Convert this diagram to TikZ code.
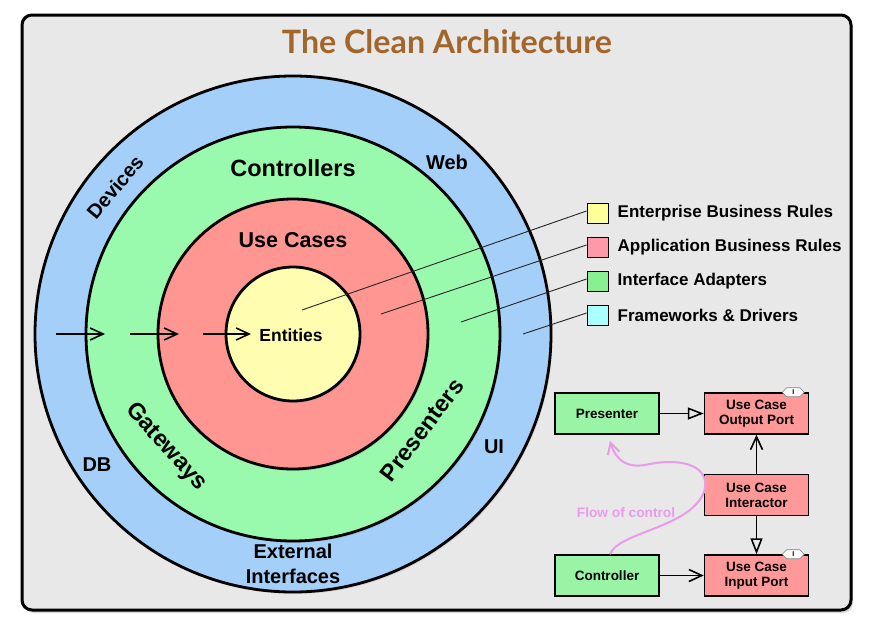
\documentclass[tikz,border=0pt]{standalone}
\usepackage{fontspec}
\setmainfont{Liberation Sans}
\newfontfamily\titlefont{Lato}
\usetikzlibrary{positioning,arrows.meta,shadows,shapes.symbols}

\definecolor{frameback}{HTML}{E8E8E8}
\definecolor{ringblue}{HTML}{A3CFF8}
\definecolor{ringgreen}{HTML}{99F9AC}
\definecolor{ringred}{HTML}{FF9691}
\definecolor{ringyellow}{HTML}{FFFDB0}
\definecolor{keyyellow}{HTML}{FFFF99}
\definecolor{keypink}{HTML}{FF99AA}
\definecolor{keygreen}{HTML}{88F090}
\definecolor{keycyan}{HTML}{AAFFFF}
\definecolor{boxgreen}{HTML}{99F5A5}
\definecolor{boxred}{HTML}{FF9999}
\definecolor{titlebrown}{HTML}{A2652A}
\definecolor{flowpink}{HTML}{E99BEA}

\begin{document}
\begin{tikzpicture}[x=1pt,y=-1pt,
  node distance=13pt and 9pt,
  ring/.style={draw,circle,line width=2.8pt,inner sep=0pt,
    drop shadow={shadow xshift=1.5pt,shadow yshift=-2pt,opacity=0.2}},
  keybox/.style={draw,rectangle,line width=1pt,minimum width=21pt,minimum height=20pt,inner sep=0pt},
  keytext/.style={inner sep=0pt,font=\bfseries\fontsize{17}{17}\selectfont},
  ringtext/.style={inner sep=0pt,font=\bfseries\fontsize{20}{25}\selectfont},
  bigtext/.style={inner sep=0pt,font=\bfseries\fontsize{23.5}{25}\selectfont},
  cbox/.style={draw,rectangle,line width=1.5pt,minimum width=104pt,minimum height=41pt,
    inner sep=1pt,align=center,font=\bfseries\fontsize{13.5}{15}\selectfont},
  itag/.style={draw=gray,fill=white,signal,signal to=west and east,line width=0.6pt,
    minimum width=22pt,minimum height=9pt,inner sep=0.5pt,font=\bfseries\fontsize{7}{7}\selectfont},
  barb/.style={line width=1.6pt,-{Straight Barb[length=13pt,width=12pt]}},
  hollow/.style={line width=1.6pt,-{Triangle[open,length=16pt,width=12pt,line width=1.6pt]}}
]
\useasboundingbox[fill=white] (0,0) rectangle (869,635);
\draw[line width=3pt,fill=frameback,rounded corners=10pt,
  drop shadow={shadow xshift=2pt,shadow yshift=-3pt,opacity=0.3}] (22,15) rectangle (851,610);

\node[text=titlebrown] (title) at (447,42) {\resizebox{330pt}{!}{\titlefont\bfseries The Clean Architecture}};

% the rings
\node[ring,fill=ringblue,minimum size=516pt] (outer) at (293,334) {};
\node[ring,fill=ringgreen,minimum size=414pt] (adapters) at (293,334) {};
\node[ring,fill=ringred,minimum size=270pt] (usecase) at (293,334) {};
\node[ring,fill=ringyellow,minimum size=134pt] (core) at (293,334) {};

\node[bigtext] (ctrls) at (293,168) {Controllers};
\node[inner sep=0pt,font=\bfseries\fontsize{21.5}{23}\selectfont] (cases) at (293,240) {Use Cases};
\node[inner sep=0pt,font=\bfseries\fontsize{17.5}{18}\selectfont] (ent) at (291,335) {Entities};
\node[ringtext] (web) at (447,162) {Web};
\node[ringtext] (ui) at (494,447) {UI};
\node[ringtext] (db) at (97,465) {DB};
\node[ringtext,align=center] (ext) at (293,564) {External\\Interfaces};
\node[ringtext,rotate=50] (dev) at (115,187) {Devices};
\node[bigtext,rotate=-48] (gate) at (166,447) {Gateways};
\node[bigtext,rotate=53] (pres) at (422,430) {Presenters};

% dependency arrows
\coordinate (a1) at (56,334);
\coordinate (b1) at (105,334);
\coordinate (a2) at (130,334);
\coordinate (b2) at (179,334);
\coordinate (a3) at (203,334);
\coordinate (b3) at (251,334);
\draw[barb] (a1) -- (b1);
\draw[barb] (a2) -- (b2);
\draw[barb] (a3) -- (b3);

% legend
\node[keybox,fill=keyyellow] (key1) at (597.5,213) {};
\node[keybox,fill=keypink,below=of key1] (key2) {};
\node[keybox,fill=keygreen,below=of key2] (key3) {};
\node[keybox,fill=keycyan,below=of key3] (key4) {};
\node[keytext,right=of key1] (txt1) {Enterprise Business Rules};
\node[keytext,right=of key2] (txt2) {Application Business Rules};
\node[keytext,right=of key3] (txt3) {Interface Adapters};
\node[keytext,right=of key4] (txt4) {Frameworks \& Drivers};

\coordinate (p1) at (302,310);
\coordinate (p2) at (381,314);
\coordinate (p3) at (461,322);
\coordinate (p4) at (523,334);
\draw[line width=0.9pt,black!85] (p1) -- ([yshift=2pt]key1.west);
\draw[line width=0.9pt,black!85] (p2) -- ([yshift=2pt]key2.west);
\draw[line width=0.9pt,black!85] (p3) -- ([yshift=2pt]key3.west);
\draw[line width=0.9pt,black!85] (p4) -- ([yshift=2pt]key4.west);

% flow of control
\node[cbox,fill=boxred] (outport) at (756.5,413.5) {Use Case\\Output Port};
\node[cbox,fill=boxgreen,left=44pt of outport] (presenter) {Presenter};
\node[cbox,fill=boxred,below=39pt of outport] (interactor) {Use Case\\Interactor};
\node[cbox,fill=boxred,below=38pt of interactor] (inport) {Use Case\\Input Port};
\node[cbox,fill=boxgreen,left=44pt of inport] (controller) {Controller};
\node[itag] at ([xshift=-16pt]outport.north east) {I};
\node[itag] at ([xshift=-16pt]inport.north east) {I};

\draw[hollow] (presenter) -- (outport);
\draw[barb] (interactor) -- (outport);
\draw[hollow] (interactor) -- (inport);
\draw[barb] (controller) -- (inport);

\draw[flowpink,line width=2pt,-{Straight Barb[length=11pt,width=12pt]}]
  ([xshift=3pt]controller.north) .. controls (618,532) and (690,528) .. (704,492)
  .. controls (712,465) and (680,458) .. (650,464)
  .. controls (625,470) and (615,458) .. ([xshift=3pt,yshift=-6pt]presenter.south);
\node[text=flowpink,inner sep=0pt,font=\bfseries\fontsize{13.7}{14}\selectfont] (flow) at (626,513) {Flow of control};
\end{tikzpicture}
\end{document}
